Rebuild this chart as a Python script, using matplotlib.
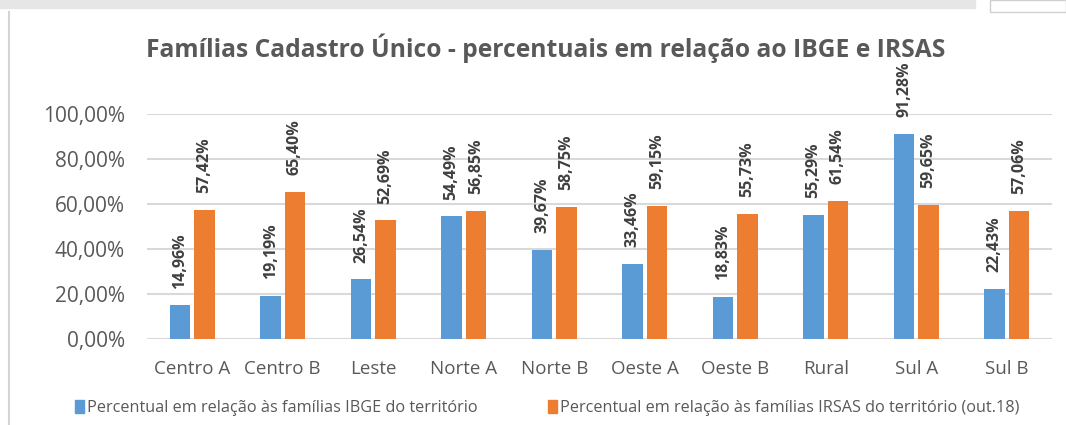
import numpy as np
import matplotlib.pyplot as plt
from matplotlib.patches import Rectangle
from matplotlib.lines import Line2D

categorias = ["Centro A", "Centro B", "Leste", "Norte A", "Norte B",
              "Oeste A", "Oeste B", "Rural", "Sul A", "Sul B"]
ibge = [14.96, 19.19, 26.54, 54.49, 39.67, 33.46, 18.83, 55.29, 91.28, 22.43]
irsas = [57.42, 65.40, 52.69, 56.85, 58.75, 59.15, 55.73, 61.54, 59.65, 57.06]
yticks = [0, 20, 40, 60, 80, 100]

serie_ibge = "Percentual em relação às famílias IBGE do território"
serie_irsas = "Percentual em relação às famílias IRSAS do território (out.18)"

azul = "#5B9BD5"
laranja = "#ED7D31"
cinza = "#595959"

plt.rcParams['font.family'] = ['Open Sans', 'DejaVu Sans']

W, H = 1066, 425
fig = plt.figure(figsize=(W/100, H/100), dpi=100)

# moldura da captura de tela
fig.patches.append(Rectangle((0, 1 - 8/H), 975/W, 8/H, transform=fig.transFigure,
                             color="#e6e6e6", zorder=0))
fig.patches.append(Rectangle((990/W, 1 - 12/H), 76/W, 12/H, transform=fig.transFigure,
                             facecolor="white", edgecolor="#d0d0d0", lw=1, zorder=0))
fig.lines.append(Line2D([8.5/W, 8.5/W], [0, 1 - 12/H], transform=fig.transFigure,
                        color="#d4d4d4", lw=1.5))

ax = fig.add_axes([147/W, (H-339)/H, (1052-147)/W, (339-114)/H])

x = np.arange(len(categorias))
w = 0.225
off = 0.135
b1 = ax.bar(x - off, ibge, w, color=azul, zorder=3)
b2 = ax.bar(x + off, irsas, w, color=laranja, zorder=3)

def fmt(v):
    return f"{v:.2f}%".replace(".", ",")

for bars, vals in ((b1, ibge), (b2, irsas)):
    for b, v in zip(bars, vals):
        ax.annotate(fmt(v), (b.get_x() + b.get_width()/2, v),
                    xytext=(0, 12), textcoords="offset points",
                    rotation=90, ha="center", va="bottom",
                    fontsize=11.5, fontweight="bold", color="#404040",
                    annotation_clip=False)

ax.set_xlim(-0.5, len(categorias) - 0.5)
ax.set_ylim(0, 100)
ax.set_yticks(yticks)
ax.set_yticklabels([f"{t},00%" for t in yticks])
ax.set_xticks(x)
ax.set_xticklabels(categorias)
ax.tick_params(axis="both", length=0, colors=cinza)
ax.tick_params(axis="y", pad=16, labelsize=15)
ax.tick_params(axis="x", pad=15, labelsize=13.5)
ax.grid(axis="y", color="#d9d9d9", lw=1.5, zorder=0)
for s in ax.spines.values():
    s.set_visible(False)

fig.text(546/W, 1 - 48/H, "Famílias Cadastro Único - percentuais em relação ao IBGE e IRSAS",
         ha="center", va="center", fontsize=17.7, fontweight="bold", color=cinza)

h1 = Rectangle((0, 0), 1, 1, color=azul)
h2 = Rectangle((0, 0), 1, 1, color=laranja)
fig.legend([h1, h2], [serie_ibge, serie_irsas], loc="center",
           bbox_to_anchor=(547/W, 1 - 408/H), ncol=2, frameon=False,
           fontsize=11.7, labelcolor=cinza, handlelength=0.55, handleheight=0.85,
           handletextpad=0.2, columnspacing=4.3)

plt.savefig("out.png", dpi=100)
